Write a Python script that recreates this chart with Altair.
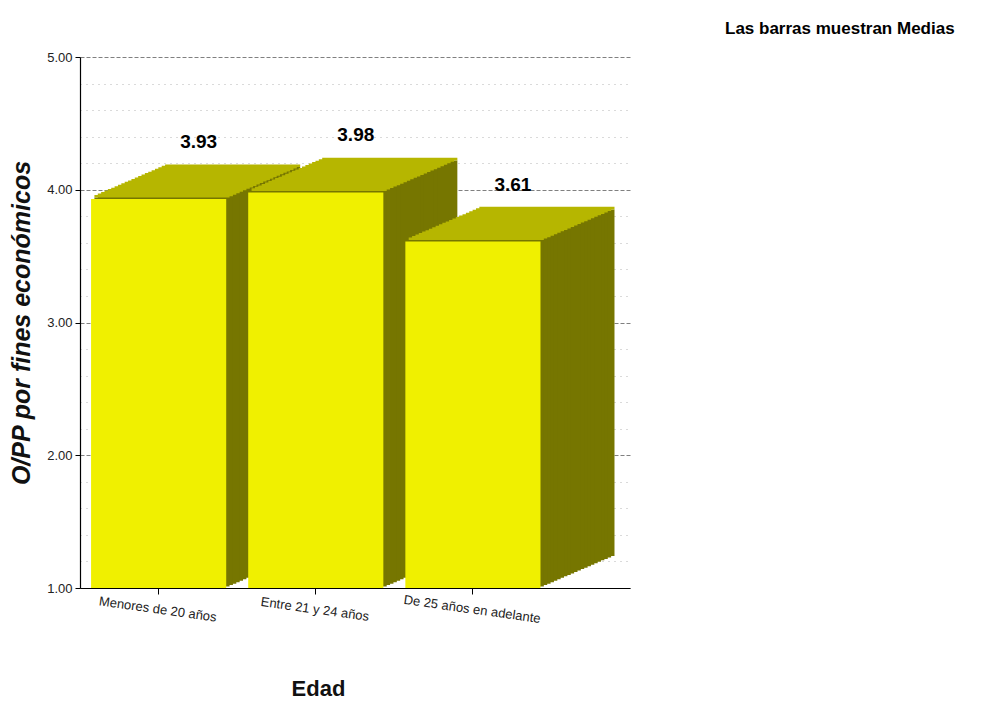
import altair as alt
import pandas as pd

# ---- data ----
categories = ["Menores de 20 años", "Entre 21 y 24 años", "De 25 años en adelante"]
means = [3.93, 3.98, 3.61]
value_labels = ["3.93", "3.98", "3.61"]
base_values = [1, 1, 1]
grid_values = [1.0, 1.2, 1.4, 1.6, 1.8, 2.0, 2.2, 2.4, 2.6, 2.8, 3.0,
               3.2, 3.4, 3.6, 3.8, 4.0, 4.2, 4.4, 4.6, 4.8, 5.0]

df = pd.DataFrame({"Edad": categories, "Media": means,
                   "Etiqueta": value_labels, "Base": base_values})

FONT = "Liberation Sans"
FRONT = "#F0F000"
TOP = "#B6B600"
SIDE = "#767600"
DX, DY, N = 74.0, 32.0, 22

is_major = "abs(datum.value - round(datum.value)) < 0.001"

x_scale = alt.Scale(paddingInner=0.14, paddingOuter=0.32, align=0.11)
y_scale = alt.Scale(domain=[1, 5], nice=False, zero=False)

x_axis = alt.Axis(
    title="Edad", titleFont=FONT, titleFontSize=22, titleFontWeight="bold",
    titleColor="#111", titleX=238, titleY=90,
    labelFont=FONT, labelFontSize=13, labelColor="#222", labelAngle=8,
    labelAlign="center", labelBaseline="top", labelPadding=9,
    domainColor="#000", domainWidth=1.2, tickColor="#000", tickSize=6,
    grid=False,
)
y_axis = alt.Axis(
    title="O/PP por fines económicos", titleFont=FONT, titleFontSize=25,
    titleFontWeight="bold", titleFontStyle="italic", titleColor="#111",
    titleX=-46, titleY=265.5,
    values=grid_values,
    labelExpr=f"{is_major} ? format(datum.value, '.2f') : ''",
    labelFont=FONT, labelFontSize=13, labelColor="#222", labelPadding=3,
    domainColor="#000", domainWidth=1.2, tickColor="#000", tickSize=5,
    tickOpacity={"condition": {"test": is_major, "value": 1}, "value": 0},
    grid=True,
    gridColor={"condition": {"test": is_major, "value": "#808080"}, "value": "#b4b4b4"},
    gridDash={"condition": {"test": is_major, "value": [4, 2]}, "value": [1, 5]},
    gridWidth=1,
)

x_enc = alt.X("Edad:N", sort=categories, scale=x_scale, axis=x_axis)
y_enc = alt.Y("Media:Q", scale=y_scale, axis=y_axis)

base = alt.Chart(df)
layers = []
h = DY / N + 1.2
for i in range(N, 0, -1):
    ox = DX * i / N
    oy = -DY * i / N
    body = base.mark_bar(color=SIDE, xOffset=ox, yOffset=oy, y2Offset=oy).encode(
        x=x_enc, y=y_enc, y2="Base:Q")
    strip = base.mark_bar(color=TOP, xOffset=ox, yOffset=oy - h, y2Offset=oy).encode(
        x=x_enc, y=y_enc, y2="Media:Q")
    layers += [body, strip]

front = base.mark_bar(color=FRONT).encode(x=x_enc, y=y_enc, y2="Base:Q")
text = base.mark_text(font=FONT, fontSize=19, fontWeight="bold", color="#000",
                      dx=40, dy=-57).encode(x=x_enc, y=y_enc, text="Etiqueta:N")

chart = alt.layer(*layers, front, text).properties(
    width=550, height=531,
    autosize=alt.AutoSizeParams(type="none"),
    padding={"left": 80, "top": 57, "right": 362, "bottom": 119},
    background="white",
    title=alt.TitleParams("Las barras muestran Medias", anchor="start", frame="group",
                          dx=645, offset=13, font=FONT, fontSize=17,
                          fontWeight="bold", color="#000"),
).configure_view(stroke=None)

chart.save("out.html", embed_options={"renderer": "svg", "actions": False})
